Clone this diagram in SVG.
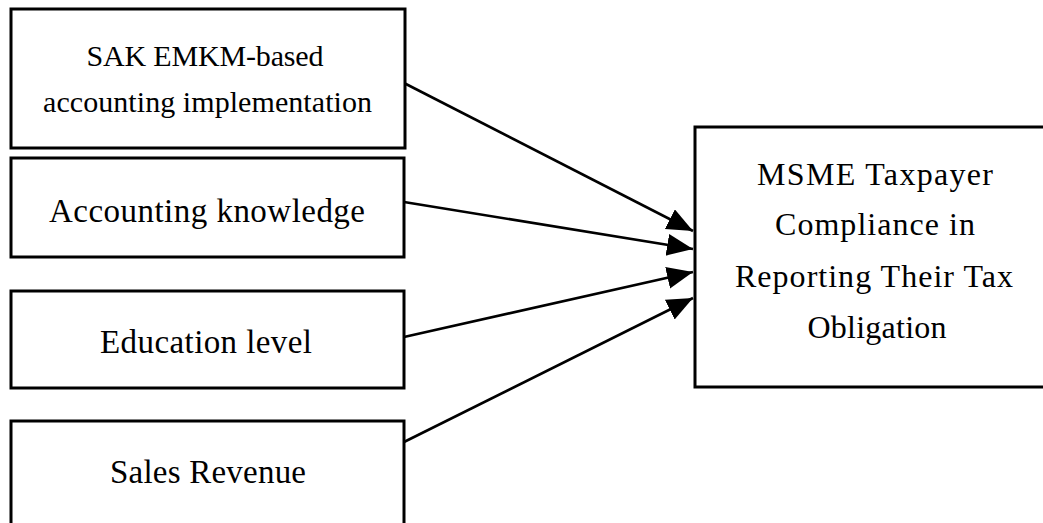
<svg xmlns="http://www.w3.org/2000/svg" width="1043" height="523" viewBox="0 0 1043 523">
<style>
.box{fill:#fff;stroke:#000;stroke-width:3}
.t{font-family:"Liberation Serif","Times New Roman",serif;fill:#000;text-anchor:middle}
.edge{stroke:#000;stroke-width:2.6;fill:none;marker-end:url(#ah)}
</style>
<defs>
<marker id="ah" markerUnits="userSpaceOnUse" markerWidth="28" markerHeight="24" refX="26" refY="11" orient="auto">
<path d="M0,0 L26,11 L0,22 Z" fill="#000"/>
</marker>
</defs>
<rect width="1043" height="523" fill="#fff"/>
<g id="connectors">
<line class="edge" x1="404" y1="83" x2="693" y2="231"/>
<line class="edge" x1="404" y1="202" x2="693" y2="249"/>
<line class="edge" x1="404" y1="337" x2="693" y2="272"/>
<line class="edge" x1="404" y1="442" x2="693" y2="298"/>
</g>
<g id="n1">
<rect class="box" x="11" y="9" width="394" height="139"/>
<text class="t" x="205" y="66" font-size="30" textLength="237" lengthAdjust="spacing">SAK EMKM-based</text>
<text class="t" x="207.5" y="112" font-size="30" textLength="329" lengthAdjust="spacing">accounting implementation</text>
</g>
<g id="n2">
<rect class="box" x="11" y="158" width="393" height="99"/>
<text class="t" x="207" y="222" font-size="33" textLength="316" lengthAdjust="spacing">Accounting knowledge</text>
</g>
<g id="n3">
<rect class="box" x="11" y="291" width="393" height="97"/>
<text class="t" x="206" y="353" font-size="33" textLength="212" lengthAdjust="spacing">Education level</text>
</g>
<g id="n4">
<rect class="box" x="11" y="421" width="393" height="120"/>
<text class="t" x="208" y="483" font-size="33" textLength="196" lengthAdjust="spacing">Sales Revenue</text>
</g>
<g id="target">
<rect class="box" x="695" y="127" width="370" height="260"/>
<text class="t" x="875" y="185" font-size="32" textLength="236" lengthAdjust="spacing">MSME Taxpayer</text>
<text class="t" x="875" y="235" font-size="32" textLength="200" lengthAdjust="spacing">Compliance in</text>
<text class="t" x="874" y="287" font-size="32" textLength="278" lengthAdjust="spacing">Reporting Their Tax</text>
<text class="t" x="877" y="338" font-size="32" textLength="139" lengthAdjust="spacing">Obligation</text>
</g>
</svg>
